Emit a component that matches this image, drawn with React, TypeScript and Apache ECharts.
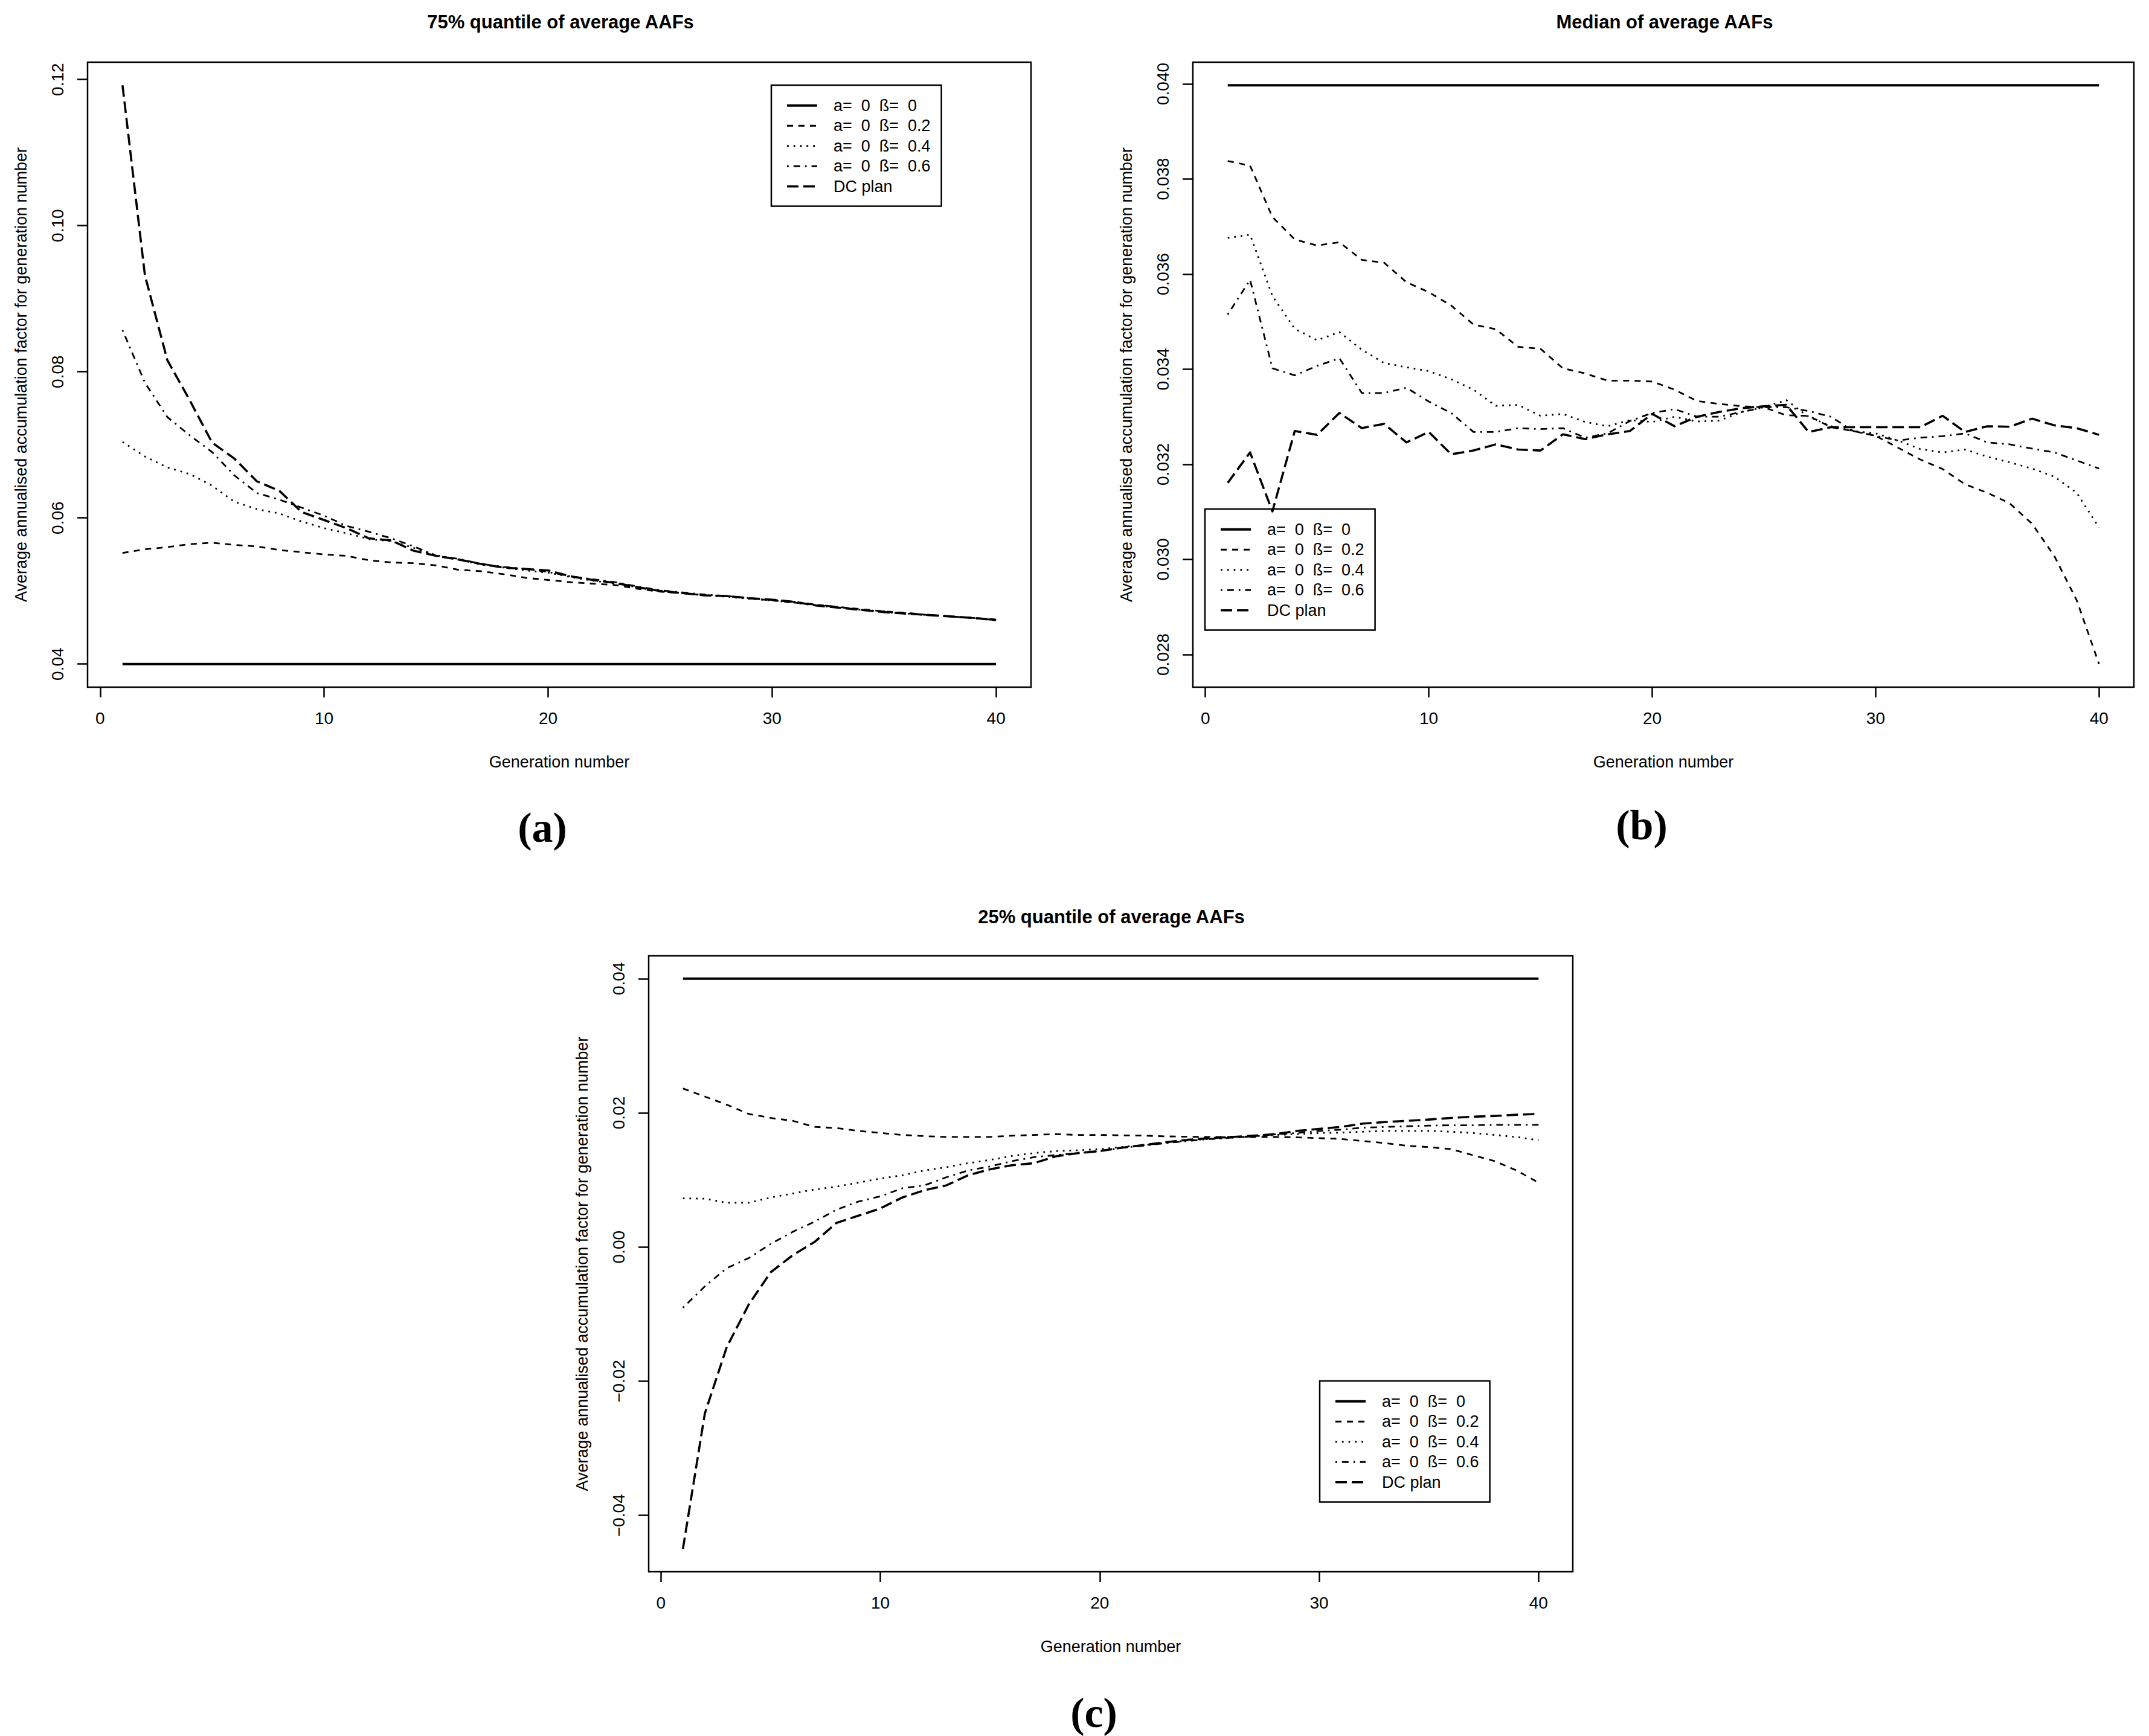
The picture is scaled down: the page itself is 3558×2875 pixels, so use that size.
import React, { useEffect, useRef } from "react";
import * as echarts from "echarts";

const W = 3558;
const H = 2875;
const FONT = "'Liberation Sans', Arial, Helvetica, sans-serif";

// ---------- data ----------
const generations = [
  1, 2, 3, 4, 5, 6, 7, 8, 9, 10, 11, 12, 13, 14, 15, 16, 17, 18, 19, 20,
  21, 22, 23, 24, 25, 26, 27, 28, 29, 30, 31, 32, 33, 34, 35, 36, 37, 38, 39, 40,
];

const seriesNames = [
  "a=  0  ß=  0",
  "a=  0  ß=  0.2",
  "a=  0  ß=  0.4",
  "a=  0  ß=  0.6",
  "DC plan",
];

const xTicks = [0, 10, 20, 30, 40];
const q75Ticks = [0.04, 0.06, 0.08, 0.1, 0.12];
const medTicks = [0.028, 0.03, 0.032, 0.034, 0.036, 0.038, 0.04];
const q25Ticks = [-0.04, -0.02, 0, 0.02, 0.04];

// (a) 75% quantile
const q75_b00 = [
  0.04, 0.04, 0.04, 0.04, 0.04, 0.04, 0.04, 0.04, 0.04, 0.04,
  0.04, 0.04, 0.04, 0.04, 0.04, 0.04, 0.04, 0.04, 0.04, 0.04,
  0.04, 0.04, 0.04, 0.04, 0.04, 0.04, 0.04, 0.04, 0.04, 0.04,
  0.04, 0.04, 0.04, 0.04, 0.04, 0.04, 0.04, 0.04, 0.04, 0.04,
];
const q75_b02 = [
  0.0552, 0.0557, 0.056, 0.0564, 0.0566, 0.0563, 0.0561, 0.0556, 0.0553, 0.055,
  0.0548, 0.0542, 0.0539, 0.0538, 0.0535, 0.0529, 0.0527, 0.0523, 0.0518, 0.0515,
  0.0512, 0.051, 0.0508, 0.0503, 0.0499, 0.0497, 0.0494, 0.0493, 0.049, 0.0487,
  0.0484, 0.0481, 0.0478, 0.0475, 0.0472, 0.047, 0.0467, 0.0465, 0.0463, 0.0461,
];
const q75_b04 = [
  0.0704, 0.0684, 0.0669, 0.066, 0.0644, 0.0622, 0.0612, 0.0606, 0.0595, 0.0586,
  0.0579, 0.0571, 0.0568, 0.0559, 0.0549, 0.0543, 0.0536, 0.0532, 0.0528, 0.0525,
  0.0519, 0.0514, 0.051, 0.0505, 0.05, 0.0497, 0.0494, 0.0492, 0.0489, 0.0487,
  0.0484, 0.048, 0.0477, 0.0474, 0.0471, 0.0469, 0.0467, 0.0465, 0.0463, 0.046,
];
const q75_b06 = [
  0.0857, 0.0785, 0.0738, 0.0713, 0.069, 0.0658, 0.0634, 0.0625, 0.0614, 0.0603,
  0.0589, 0.0581, 0.0572, 0.0561, 0.0548, 0.0544, 0.0537, 0.0533, 0.053, 0.0526,
  0.052, 0.0516, 0.0512, 0.0506, 0.0501, 0.0498, 0.0495, 0.0493, 0.049, 0.0488,
  0.0485, 0.0481, 0.0478, 0.0474, 0.0472, 0.0469, 0.0467, 0.0465, 0.0463, 0.046,
];
const q75_dc = [
  0.1192, 0.0932, 0.0816, 0.0761, 0.0703, 0.0681, 0.065, 0.0637, 0.0608, 0.0597,
  0.0586, 0.0572, 0.0569, 0.0555, 0.0548, 0.0543, 0.0537, 0.0532, 0.053, 0.0528,
  0.052, 0.0515, 0.0511, 0.0505, 0.05, 0.0497, 0.0494, 0.0493, 0.049, 0.0488,
  0.0485, 0.048, 0.0477, 0.0474, 0.0471, 0.0469, 0.0467, 0.0465, 0.0463, 0.046,
];

// (b) median
const med_b00 = [
  0.03997, 0.03997, 0.03997, 0.03997, 0.03997, 0.03997, 0.03997, 0.03997, 0.03997, 0.03997,
  0.03997, 0.03997, 0.03997, 0.03997, 0.03997, 0.03997, 0.03997, 0.03997, 0.03997, 0.03997,
  0.03997, 0.03997, 0.03997, 0.03997, 0.03997, 0.03997, 0.03997, 0.03997, 0.03997, 0.03997,
  0.03997, 0.03997, 0.03997, 0.03997, 0.03997, 0.03997, 0.03997, 0.03997, 0.03997, 0.03997,
];
const med_b02 = [
  0.03838, 0.03828, 0.0372, 0.03673, 0.0366, 0.03667, 0.0363, 0.03624, 0.03583, 0.03562,
  0.03534, 0.03494, 0.03484, 0.03447, 0.03443, 0.03402, 0.03391, 0.03376, 0.03376, 0.03374,
  0.03357, 0.03333, 0.03327, 0.03322, 0.0332, 0.03303, 0.03302, 0.03278, 0.0327, 0.0326,
  0.03235, 0.0321, 0.0319, 0.03158, 0.0314, 0.03118, 0.03075, 0.03007, 0.02914, 0.0278,
];
const med_b04 = [
  0.03676, 0.03683, 0.03554, 0.03485, 0.03461, 0.03478, 0.03441, 0.03413, 0.03404, 0.03396,
  0.03379, 0.03357, 0.03323, 0.03325, 0.03302, 0.03306, 0.03289, 0.0328, 0.03293, 0.03289,
  0.033, 0.0329, 0.03292, 0.0331, 0.0332, 0.03335, 0.033, 0.0328, 0.0327, 0.03265,
  0.0325, 0.03232, 0.03225, 0.03231, 0.03216, 0.03204, 0.03191, 0.03174, 0.0314, 0.03067,
];
const med_b06 = [
  0.03515, 0.03588, 0.03402, 0.03387, 0.03407, 0.03423, 0.0335, 0.0335, 0.03361, 0.03332,
  0.03308, 0.03268, 0.03268, 0.03276, 0.03274, 0.03276, 0.03256, 0.03265, 0.03291, 0.03308,
  0.03316, 0.033, 0.033, 0.0331, 0.0332, 0.0332, 0.03312, 0.033, 0.0327, 0.0326,
  0.0325, 0.03256, 0.03259, 0.03265, 0.03246, 0.03242, 0.03233, 0.03225, 0.03208, 0.03191,
];
const med_dc = [
  0.03161, 0.03225, 0.03101, 0.0327, 0.03262, 0.03308, 0.03276, 0.03285, 0.03246, 0.03268,
  0.03221, 0.03229, 0.03242, 0.03231, 0.03229, 0.03263, 0.03253, 0.03263, 0.0327, 0.03306,
  0.0328, 0.033, 0.0331, 0.03318, 0.03322, 0.03325, 0.03268, 0.03278, 0.03278, 0.03278,
  0.03278, 0.03278, 0.03302, 0.03268, 0.0328, 0.03279, 0.03296, 0.03282, 0.03276, 0.03262,
];

// (c) 25% quantile
const q25_b00 = [
  0.04, 0.04, 0.04, 0.04, 0.04, 0.04, 0.04, 0.04, 0.04, 0.04,
  0.04, 0.04, 0.04, 0.04, 0.04, 0.04, 0.04, 0.04, 0.04, 0.04,
  0.04, 0.04, 0.04, 0.04, 0.04, 0.04, 0.04, 0.04, 0.04, 0.04,
  0.04, 0.04, 0.04, 0.04, 0.04, 0.04, 0.04, 0.04, 0.04, 0.04,
];
const q25_b02 = [
  0.02363, 0.02243, 0.02122, 0.01984, 0.01924, 0.01881, 0.01791, 0.01773, 0.01731, 0.01701,
  0.01671, 0.01653, 0.01641, 0.01641, 0.01641, 0.01659, 0.01671, 0.01683, 0.01671, 0.01671,
  0.01665, 0.0166, 0.0165, 0.01645, 0.0164, 0.0164, 0.0164, 0.0164, 0.01635, 0.01623,
  0.01611, 0.0158, 0.0155, 0.01508, 0.0149, 0.0146, 0.0137, 0.0128, 0.01141, 0.0096,
];
const q25_b04 = [
  0.00726, 0.0072, 0.0066, 0.0066, 0.00738, 0.00798, 0.00858, 0.009, 0.0096, 0.01021,
  0.01069, 0.01141, 0.01189, 0.0125, 0.01298, 0.01358, 0.014, 0.0143, 0.01442, 0.0146,
  0.0149, 0.0152, 0.0155, 0.0159, 0.0161, 0.0163, 0.0165, 0.0167, 0.01683, 0.017,
  0.01705, 0.01719, 0.01731, 0.01731, 0.01731, 0.01719, 0.017, 0.01671, 0.0164, 0.01592,
];
const q25_b06 = [
  -0.00905, -0.00586, -0.00315, -0.00165, 0.00046, 0.00226, 0.00377, 0.00557, 0.00678, 0.00756,
  0.00876, 0.00918, 0.01039, 0.01141, 0.01201, 0.0128, 0.0134, 0.0137, 0.014, 0.0143,
  0.0148, 0.0151, 0.0155, 0.0158, 0.0161, 0.0163, 0.0165, 0.0168, 0.017, 0.0173,
  0.0175, 0.01779, 0.0179, 0.018, 0.0181, 0.01815, 0.01815, 0.01821, 0.01821, 0.01821,
];
const q25_dc = [
  -0.045, -0.0248, -0.0149, -0.00857, -0.00376, -0.00123, 0.00076, 0.00359, 0.00467, 0.00575,
  0.00738, 0.00846, 0.00918, 0.01069, 0.01159, 0.01219, 0.0125, 0.01352, 0.014, 0.0143,
  0.0148, 0.0152, 0.01562, 0.01598, 0.01623, 0.0164, 0.01659, 0.01683, 0.01731, 0.01761,
  0.01791, 0.0184, 0.01863, 0.01881, 0.019, 0.01924, 0.01942, 0.01954, 0.01972, 0.01984,
];

// ---------- styles ----------
const lineStyles: any[] = [
  { width: 4, type: "solid" },
  { width: 2.8, type: [10, 9] },
  { width: 2.8, type: [2.8, 8] },
  { width: 2.8, type: [2.8, 8, 11, 8] },
  { width: 3.6, type: [19, 8] },
];

const panels = [
  {
    title: "75% quantile of average AAFs",
    tag: "(a)",
    values: [q75_b00, q75_b02, q75_b04, q75_b06, q75_dc],
    ticks: q75Ticks,
    decimals: 2,
    grid: { left: 145, top: 103, width: 1562, height: 1035 },
    legend: { left: 1277, top: 141 },
    titlePos: [928, 36],
    tagPos: [898, 1370],
  },
  {
    title: "Median of average AAFs",
    tag: "(b)",
    values: [med_b00, med_b02, med_b04, med_b06, med_dc],
    ticks: medTicks,
    decimals: 3,
    grid: { left: 1975, top: 103, width: 1558, height: 1035 },
    legend: { left: 1995, top: 843 },
    titlePos: [2756, 36],
    tagPos: [2718, 1366],
  },
  {
    title: "25% quantile of average AAFs",
    tag: "(c)",
    values: [q25_b00, q25_b02, q25_b04, q25_b06, q25_dc],
    ticks: q25Ticks,
    decimals: 2,
    grid: { left: 1074, top: 1583, width: 1530, height: 1020 },
    legend: { left: 2185, top: 2287 },
    titlePos: [1840, 1518],
    tagPos: [1811, 2836],
  },
];

function rRange(vals: number[]): [number, number] {
  let lo = Infinity;
  let hi = -Infinity;
  for (const v of vals) {
    if (v < lo) lo = v;
    if (v > hi) hi = v;
  }
  const r = hi - lo;
  return [lo - 0.04 * r, hi + 0.04 * r];
}

function fmt(v: number, d: number) {
  const s = Math.abs(v).toFixed(d);
  return v < -1e-12 ? "\u2212" + s : s;
}

function buildOption() {
  const grid: any[] = [];
  const xAxis: any[] = [];
  const yAxis: any[] = [];
  const series: any[] = [];
  const legend: any[] = [];
  const graphic: any[] = [];
  const xr = rRange(generations);

  panels.forEach((p, i) => {
    grid.push({
      ...p.grid,
      show: true,
      borderColor: "#000",
      borderWidth: 2.5,
      backgroundColor: "transparent",
      containLabel: false,
    });
    xAxis.push({
      type: "value",
      gridIndex: i,
      position: "bottom",
      min: xr[0],
      max: xr[1],
      axisLine: { show: false, onZero: false },
      splitLine: { show: false },
      axisTick: {
        show: true,
        length: 17,
        customValues: xTicks,
        lineStyle: { color: "#000", width: 2.5 },
      },
      axisLabel: {
        customValues: xTicks,
        margin: 37,
        fontSize: 28,
        fontFamily: FONT,
        color: "#000",
        formatter: (v: number) => String(Math.round(v)),
      },
      name: "Generation number",
      nameLocation: "middle",
      nameGap: 110,
      nameTextStyle: { fontSize: 27, fontFamily: FONT, color: "#000" },
    });
    const all = ([] as number[]).concat(...p.values);
    const yr = rRange(all);
    const d = p.decimals;
    yAxis.push({
      type: "value",
      gridIndex: i,
      position: "left",
      min: yr[0],
      max: yr[1],
      axisLine: { show: false, onZero: false },
      splitLine: { show: false },
      axisTick: {
        show: true,
        length: 17,
        customValues: p.ticks,
        lineStyle: { color: "#000", width: 2.5 },
      },
      axisLabel: {
        customValues: p.ticks,
        rotate: 90,
        margin: 36,
        fontSize: 28,
        fontFamily: FONT,
        color: "#000",
        formatter: (v: number) => fmt(v, d),
      },
      name: "Average annualised accumulation factor for generation number",
      nameLocation: "middle",
      nameRotate: 90,
      nameGap: 97,
      nameTextStyle: { fontSize: 27, fontFamily: FONT, color: "#000" },
    });
    p.values.forEach((vals, k) => {
      series.push({
        name: seriesNames[k],
        type: "line",
        xAxisIndex: i,
        yAxisIndex: i,
        symbol: "none",
        showSymbol: false,
        silent: true,
        color: "#000",
        itemStyle: { color: "#000" },
        data: vals.map((v, j) => [generations[j], v]),
        lineStyle: { color: "#000", cap: "butt", join: "round", ...lineStyles[k] },
        z: 2 + k,
      });
    });
    legend.push({
      orient: "vertical",
      left: p.legend.left,
      top: p.legend.top,
      padding: [17, 18, 16, 24],
      itemWidth: 50,
      itemHeight: 14,
      itemGap: 0,
      selectedMode: false,
      borderColor: "#000",
      borderWidth: 2.5,
      backgroundColor: "#fff",
      data: seriesNames.map((n, k) => ({
        name: n,
        lineStyle: { color: "#000", width: lineStyles[k].width, type: lineStyles[k].type, cap: "butt" },
        itemStyle: { opacity: 0 },
      })),
      itemStyle: { opacity: 0 },
      textStyle: {
        fontSize: 27,
        fontFamily: FONT,
        color: "#000",
        lineHeight: 33.5,
        padding: [0, 0, 0, 22],
      },
    });
    graphic.push({
      type: "text",
      x: p.titlePos[0],
      y: p.titlePos[1],
      style: {
        text: p.title,
        fontSize: 31,
        fontWeight: "bold",
        fontFamily: FONT,
        fill: "#000",
        align: "center",
        verticalAlign: "middle",
      },
    });
    graphic.push({
      type: "text",
      x: p.tagPos[0],
      y: p.tagPos[1],
      style: {
        text: p.tag,
        fontSize: 70,
        fontWeight: "bold",
        fontFamily: "'Liberation Serif', 'DejaVu Serif', serif",
        fill: "#000",
        align: "center",
        verticalAlign: "middle",
      },
    });
  });

  return {
    animation: false,
    backgroundColor: "#fff",
    color: ["#000"],
    grid,
    xAxis,
    yAxis,
    series,
    legend,
    graphic,
  };
}

export default function App() {
  const ref = useRef<HTMLDivElement>(null);
  useEffect(() => {
    document.body.style.margin = "0";
    const chart = echarts.init(ref.current as HTMLDivElement, null, {
      renderer: "svg",
      width: W,
      height: H,
    });
    chart.setOption(buildOption() as any);
    return () => {
      chart.dispose();
    };
  }, []);
  return (
    <div
      ref={ref}
      style={{ position: "absolute", left: 0, top: 0, width: W, height: H, background: "#fff" }}
    />
  );
}
